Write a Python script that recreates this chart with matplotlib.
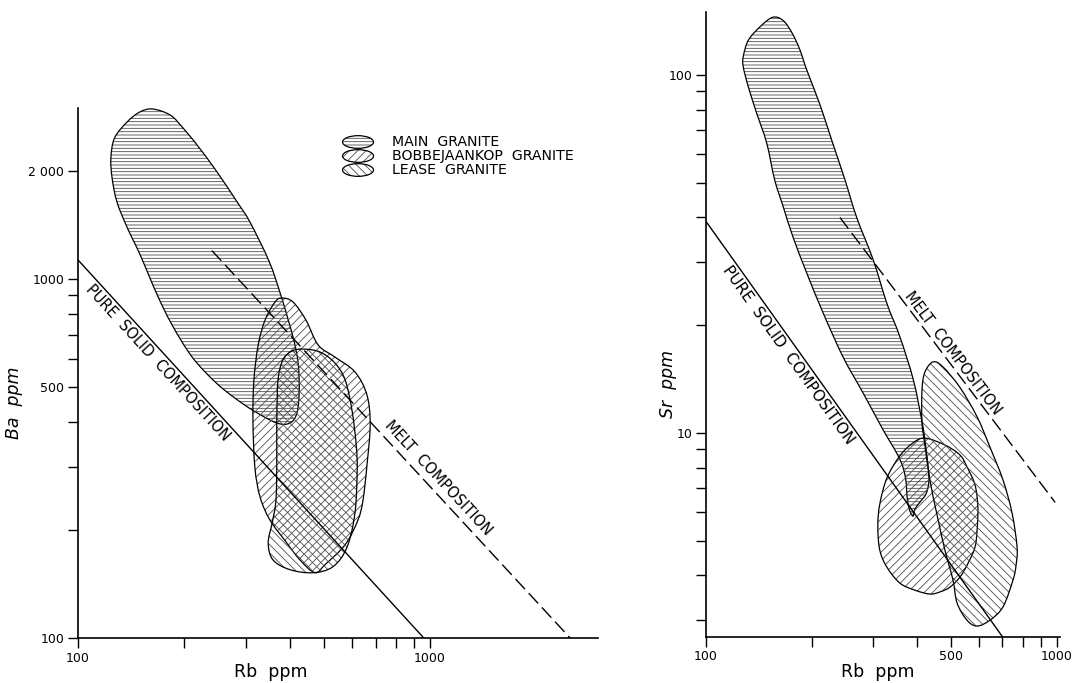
import numpy as np
import matplotlib
matplotlib.use("Agg")
import matplotlib.pyplot as plt
from matplotlib.path import Path
from matplotlib.patches import PathPatch, Ellipse

# ---------------- data ----------------
# Left panel: Ba (ppm) vs Rb (ppm) -- outlines of the granite fields
ba_main_rb = [163, 183, 199, 218, 248, 283, 308, 349, 377, 408, 422, 425, 419, 400, 367,
              316, 279, 245, 211, 185, 168, 150, 138, 129, 125, 124, 127, 138, 150]
ba_main_ba = [2975, 2860, 2630, 2360, 1990, 1640, 1440, 1120, 900, 690, 583, 490, 424, 397, 397,
              429, 466, 517, 606, 745, 902, 1170, 1390, 1640, 1910, 2170, 2470, 2740, 2920]
ba_bob_rb = [380, 408, 444, 481, 537, 612, 662, 676, 662, 645, 624, 574, 503, 471, 427,
             387, 351, 329, 318, 314, 316, 325, 340, 363]
ba_bob_ba = [885, 863, 769, 655, 606, 551, 475, 392, 303, 242, 213, 182, 160, 152, 165,
             187, 213, 247, 299, 405, 523, 655, 769, 863]
ba_lease_rb = [436, 487, 537, 574, 600, 617, 621, 612, 581, 530, 465, 400, 358, 347, 356,
               365, 367, 367, 370, 382, 405]
ba_lease_ba = [638, 626, 583, 523, 432, 345, 294, 223, 179, 158, 152, 155, 165, 184, 209,
               242, 313, 405, 523, 595, 630]
ba_solid_rb = [100, 960]
ba_solid_ba = [1130, 100]
ba_melt_rb = [240, 2500]
ba_melt_ba = [1200, 100]

# Right panel: Sr (ppm) vs Rb (ppm)
sr_main_rb = [155, 166, 176, 185, 194, 211, 228, 249, 269, 300, 328, 357, 390, 412, 421,
              430, 432, 424, 408, 394, 389, 379, 374, 372, 365, 350, 320, 281, 246, 216,
              194, 177, 166, 157, 149, 139.5, 132, 127.7, 127.7, 132, 142.6]
sr_main_sr = [145, 142, 131, 118, 103, 83, 66, 51, 40, 30.4, 23, 18.6, 14.1, 10.9, 9.56,
              8.04, 7.3, 6.76, 6.42, 6.13, 5.86, 6.17, 6.71, 7.3, 7.99, 8.78, 10.2, 12.9, 16.3, 21.6,
              27.9, 35.3, 42.9, 50.9, 64.5, 78.2, 92.8, 105.5, 112.5, 125, 136.4]
sr_bob_rb = [421, 480, 530, 555, 585, 596, 593, 585, 559, 530, 496, 465, 435, 394, 357,
             328, 313, 309, 313, 328, 357, 389]
sr_bob_sr = [9.68, 9.26, 8.68, 8.04, 7.16, 6.21, 5.36, 4.80, 4.33, 3.96, 3.71, 3.60, 3.55, 3.64, 3.81,
             4.22, 4.71, 5.50, 6.33, 7.49, 8.63, 9.38]
sr_lease_rb = [444, 474, 530, 593, 645, 703, 746, 771, 766, 751, 703, 645, 593, 555, 520,
               506, 480, 456, 435, 421, 413, 413, 421]
sr_lease_sr = [15.8, 15.3, 13.4, 11.1, 9.14, 7.39, 5.98, 4.80, 4.28, 3.89, 3.27, 3.00, 2.89, 3.00, 3.35,
               3.89, 4.71, 5.90, 7.39, 9.26, 10.7, 13.2, 14.8]
sr_solid_rb = [100, 700]
sr_solid_sr = [39, 2.7]
sr_melt_rb = [241, 990]
sr_melt_sr = [40, 6.4]

# ticks
ba_xticks = [100, 200, 300, 400, 500, 600, 700, 800, 900, 1000]
ba_xlabels = ["100", "", "", "", "", "", "", "", "", "1000"]
ba_yticks = [100, 200, 300, 400, 500, 600, 700, 800, 900, 1000, 2000]
ba_ylabels = ["100", "", "", "", "500", "", "", "", "", "1000", "2 000"]
sr_xticks = [100, 200, 300, 400, 500, 600, 700, 800, 900, 1000]
sr_xlabels = ["100", "", "", "", "500", "", "", "", "", "1000"]
sr_yticks = [3, 4, 5, 6, 7, 8, 9, 10, 20, 30, 40, 50, 60, 70, 80, 90, 100]
sr_ylabels = ["", "", "", "", "", "", "", "10", "", "", "", "", "", "", "", "", "100"]

legend_names = ["MAIN  GRANITE", "BOBBEJAANKOP  GRANITE", "LEASE  GRANITE"]
legend_hatches = ["-----", "////", "\\\\\\\\"]

plt.rcParams["hatch.linewidth"] = 0.6
plt.rcParams["font.family"] = ["DejaVu Sans"]

# ---------------- helpers ----------------
def smooth_closed(xs, ys):
    P = np.column_stack([np.log10(xs), np.log10(ys)])
    n = len(P)
    verts = [P[0]]
    codes = [Path.MOVETO]
    for i in range(n):
        p0, p1, p2, p3 = P[i - 1], P[i], P[(i + 1) % n], P[(i + 2) % n]
        c1 = p1 + (p2 - p0) / 6.0
        c2 = p2 - (p3 - p1) / 6.0
        verts += [c1, c2, p2]
        codes += [Path.CURVE4] * 3
    verts.append(P[0])
    codes.append(Path.CLOSEPOLY)
    return Path(10 ** np.array(verts), codes)


def draw_region(ax, xs, ys, hatch):
    path = smooth_closed(xs, ys)
    ax.add_patch(PathPatch(path, facecolor="none", edgecolor="0.3", lw=0, hatch=hatch))
    ax.add_patch(PathPatch(path, facecolor="none", edgecolor="black", lw=0.9))


def line_angle(ax, xs, ys):
    p = ax.transData.transform(np.column_stack([xs, ys]))
    d = p[1] - p[0]
    return np.degrees(np.arctan2(d[1], d[0]))


def style_axes(ax, xlim, ylim, xt, xl, yt, yl):
    ax.set_xscale("log")
    ax.set_yscale("log")
    ax.set_xlim(*xlim)
    ax.set_ylim(*ylim)
    ax.set_xticks(xt)
    ax.set_xticklabels(xl)
    ax.set_yticks(yt)
    ax.set_yticklabels(yl)
    ax.minorticks_off()
    for s in ["top", "right"]:
        ax.spines[s].set_visible(False)
    for s in ["left", "bottom"]:
        ax.spines[s].set_linewidth(1.2)
    ax.tick_params(which="both", direction="out", length=7, width=1.0,
                   labelsize=9, pad=3)
    ax.set_facecolor("none")


fig = plt.figure(figsize=(10.73, 6.83), dpi=100)

# ---------------- left panel ----------------
axL = fig.add_axes([78 / 1073, 45 / 683, 520 / 1073, 530.3 / 683])
style_axes(axL, (100, 3000), (100, 3000), ba_xticks, ba_xlabels, ba_yticks, ba_ylabels)
draw_region(axL, ba_main_rb, ba_main_ba, "-----")
draw_region(axL, ba_bob_rb, ba_bob_ba, "////")
draw_region(axL, ba_lease_rb, ba_lease_ba, "\\\\\\\\")
axL.plot(ba_solid_rb, ba_solid_ba, color="black", lw=1.0)
axL.plot(ba_melt_rb, ba_melt_ba, color="black", lw=1.0, dashes=(10, 4))
angL1 = line_angle(axL, ba_solid_rb, ba_solid_ba)
angL2 = line_angle(axL, ba_melt_rb, ba_melt_ba)
axL.text(168, 585, "PURE  SOLID  COMPOSITION", rotation=angL1, rotation_mode="anchor",
         ha="center", va="center", fontsize=10.5)
axL.text(1057, 279, "MELT  COMPOSITION", rotation=angL2, rotation_mode="anchor",
         ha="center", va="center", fontsize=10.5)

# legend
leg_y = [0.9353, 0.9089, 0.8825]
for name, h, yy in zip(legend_names, legend_hatches, leg_y):
    axL.add_patch(Ellipse((0.5385, yy), 0.0596, 0.0239, transform=axL.transAxes,
                          facecolor="none", edgecolor="0.3", lw=0, hatch=h))
    axL.add_patch(Ellipse((0.5385, yy), 0.0596, 0.0239, transform=axL.transAxes,
                          facecolor="none", edgecolor="black", lw=0.9))
    axL.text(0.6038, yy, name, transform=axL.transAxes, ha="left", va="center",
             fontsize=10.2)

# ---------------- right panel ----------------
axR = fig.add_axes([706 / 1073, 46.4 / 683, 353.7 / 1073, 624.6 / 683])
style_axes(axR, (100, 1020), (2.7, 150), sr_xticks, sr_xlabels, sr_yticks, sr_ylabels)
draw_region(axR, sr_main_rb, sr_main_sr, "-----")
draw_region(axR, sr_bob_rb, sr_bob_sr, "////")
draw_region(axR, sr_lease_rb, sr_lease_sr, "\\\\\\\\")
axR.plot(sr_solid_rb, sr_solid_sr, color="black", lw=1.0)
axR.plot(sr_melt_rb, sr_melt_sr, color="black", lw=1.0, dashes=(10, 4))
angR1 = line_angle(axR, sr_solid_rb, sr_solid_sr)
angR2 = line_angle(axR, sr_melt_rb, sr_melt_sr)
axR.text(172, 16.5, "PURE  SOLID  COMPOSITION", rotation=angR1, rotation_mode="anchor",
         ha="center", va="center", fontsize=11)
axR.text(507, 16.7, "MELT  COMPOSITION", rotation=angR2, rotation_mode="anchor",
         ha="center", va="center", fontsize=10.5)

# ---------------- axis titles ----------------
fig.text(271 / 1073, 6 / 683, "Rb  ppm", ha="center", va="baseline", fontsize=12.5)
fig.text(878 / 1073, 6 / 683, "Rb  ppm", ha="center", va="baseline", fontsize=12.5)
fig.text(14 / 1073, 1 - 403 / 683, "Ba  ppm", ha="center", va="center", rotation=90,
         fontsize=12.5, style="italic")
fig.text(668 / 1073, 1 - 384 / 683, "Sr  ppm", ha="center", va="center", rotation=90,
         fontsize=12.5, style="italic")

fig.savefig("out.png", dpi=100)
